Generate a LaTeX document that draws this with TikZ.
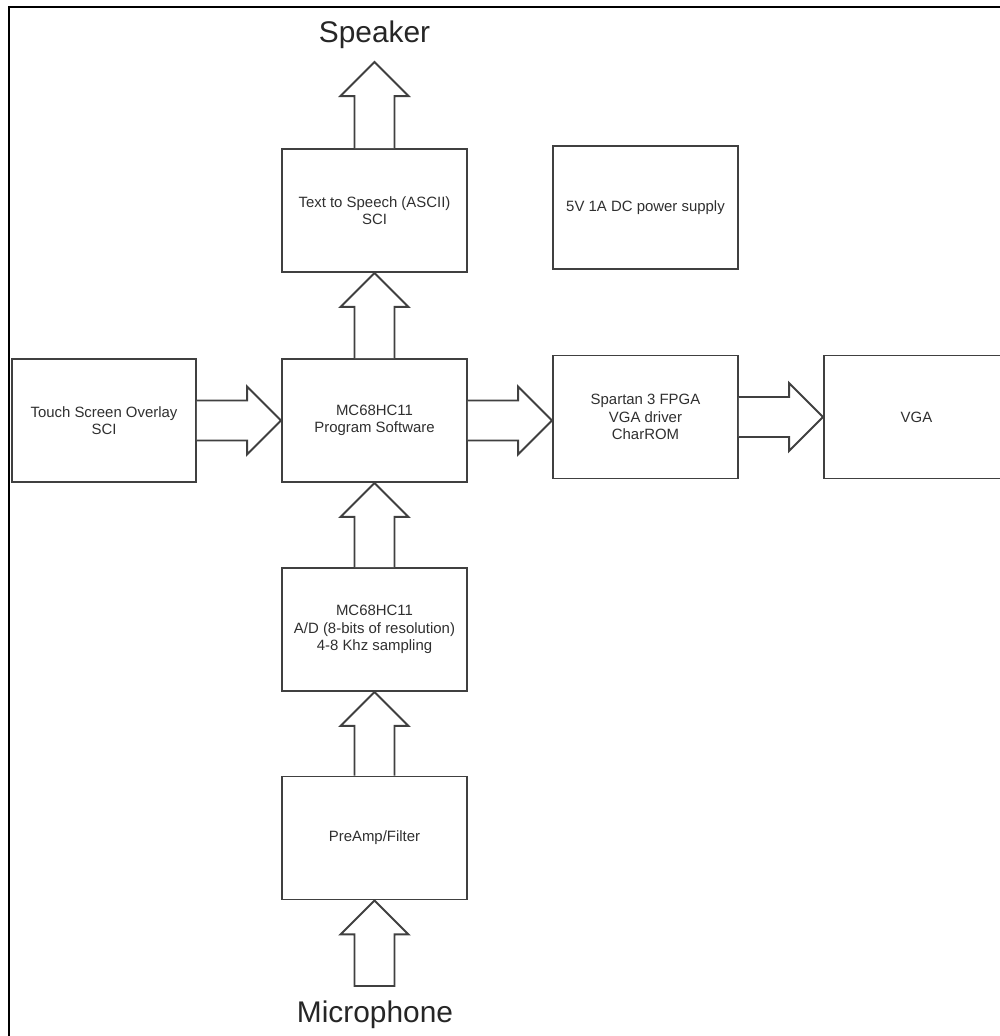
\documentclass[tikz,border=0pt]{standalone}
\usepackage{fontspec}
\setmainfont{Liberation Sans}
\usepackage{tikz}
\usetikzlibrary{calc}
\usepackage{xcolor}
\definecolor{edgegray}{HTML}{404040}
\definecolor{textgray}{HTML}{2F2F2F}

% wide outlined arrow from #2 to the tip #3, #1 may close the tail
\newcommand{\blockarrow}[3][]{%
  \coordinate (ba head) at ($(#3)!0.68cm!(#2)$);
  \draw[blockarrow] ($(#2)!0.4cm!90:(#3)$) -- ($(ba head)!0.4cm!90:(#3)$)
    -- ($(ba head)!0.68cm!90:(#3)$) -- (#3) -- ($(ba head)!0.68cm!-90:(#3)$)
    -- ($(ba head)!0.4cm!-90:(#3)$) -- ($(#2)!0.4cm!-90:(#3)$) #1;}

\begin{document}
\begin{tikzpicture}[x=0.02cm,y=0.02cm,
  box/.style={draw=edgegray,line width=1.1pt,minimum width=3.7cm,minimum height=2.46cm,
    inner sep=0pt,align=center,text=textgray,font=\fontsize{8.5pt}{10pt}\selectfont},
  blockarrow/.style={draw=edgegray,line width=1.1pt,fill=white,line join=miter},
  biglabel/.style={anchor=base,inner sep=0pt,text=black!85,font=\fontsize{17pt}{20pt}\selectfont}]
  \useasboundingbox (0,0) rectangle (1000,1036);
  \draw[line width=1.3pt] (9,0) -- (9,1029) -- (1000,1029);

  \node[box] (tts) at (374.5,825.5) {Text to Speech (ASCII)\\SCI};
  \node[box] (mcu) at (374.5,615.5) {MC68HC11\\Program Software};
  \node[box] (adc) at (374.5,406.5) {MC68HC11\\A/D (8-bits of resolution)\\4-8 Khz sampling};
  \node[box] (preamp) at (374.5,198) {PreAmp/Filter};
  \node[box,minimum width=3.68cm] (touch) at (104,615.5) {Touch Screen Overlay\\SCI};
  \node[box] (fpga) at (645.5,619) {Spartan 3 FPGA\\VGA driver\\CharROM};
  \node[box] (vga) at (916.5,619) {VGA};
  \node[box] (power) at (645.5,828.5) {5V 1A DC power supply};

  \node[biglabel] (speaker) at (374.5,993) {Speaker};
  \node[biglabel] (mic) at (375,13) {Microphone};
  \coordinate (spk tip) at ($(tts.north)+(0,86)$);
  \coordinate (mic tail) at (374.5,50);
  \coordinate (fpga in) at (mcu.east -| fpga.west);

  \blockarrow{tts.north}{spk tip}
  \blockarrow{mcu.north}{tts.south}
  \blockarrow{adc.north}{mcu.south}
  \blockarrow{preamp.north}{adc.south}
  \blockarrow[-- cycle]{mic tail}{preamp.south}
  \blockarrow{touch.east}{mcu.west}
  \blockarrow{mcu.east}{fpga in}
  \blockarrow{fpga.east}{vga.west}
\end{tikzpicture}
\end{document}
